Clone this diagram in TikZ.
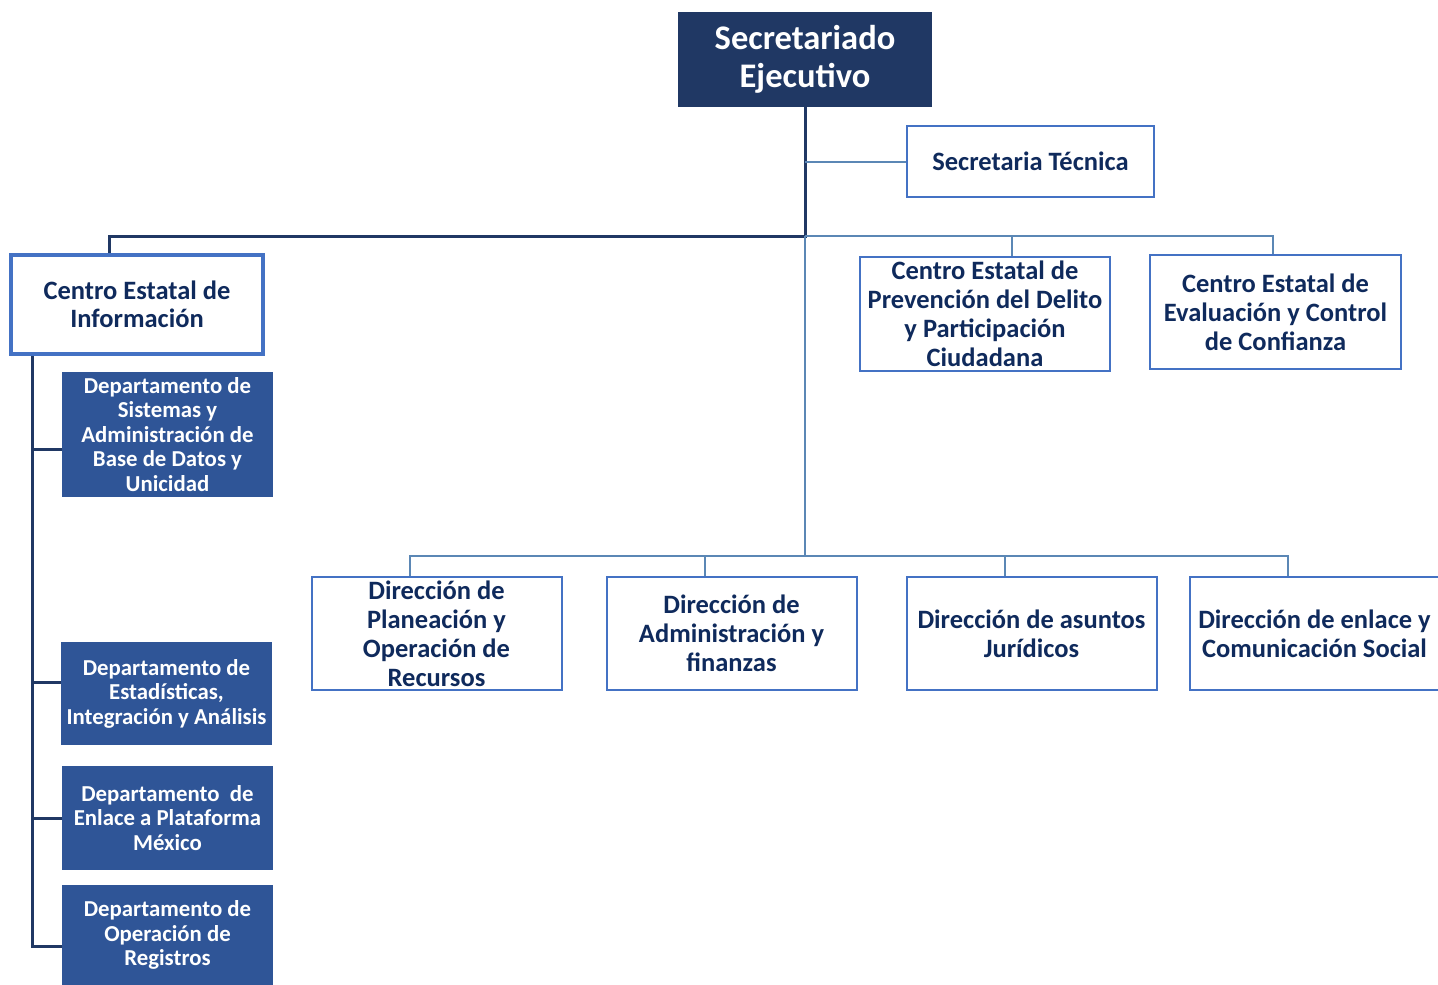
\documentclass[tikz,border=0pt]{standalone}
\usepackage{fontspec}
\setmainfont{Carlito}
\usetikzlibrary{positioning}
\definecolor{navy}{HTML}{203864}
\definecolor{deptblue}{HTML}{2F5597}
\definecolor{boxline}{HTML}{4472C4}
\definecolor{linkblue}{HTML}{5B87B5}
\definecolor{textnavy}{HTML}{0F2A5C}
\begin{document}
\begin{tikzpicture}[x=1pt,y=-1pt,node distance=45pt,inner sep=0pt]
\tikzstyle{head} = [rectangle, fill=navy, text=white, align=center, minimum width=254pt, minimum height=95pt, font=\fontsize{34.5}{38}\selectfont\bfseries]
\tikzstyle{unit} = [rectangle, draw=boxline, line width=2pt, fill=white, text=textnavy, align=center, minimum width=250pt, minimum height=113pt, font=\fontsize{26.5}{29}\selectfont\bfseries]
\tikzstyle{dept} = [rectangle, fill=deptblue, text=white, align=center, minimum width=211pt, minimum height=104pt, font=\fontsize{22.8}{24.5}\selectfont\bfseries]
\tikzstyle{trunk} = [draw=navy, line width=3pt]
\tikzstyle{link} = [draw=linkblue, line width=2pt]
\useasboundingbox (0,0) rectangle (1438,985);
\node [head] (sec) at (805,59.5) {Secretariado\\Ejecutivo};
\node [unit,minimum width=247pt,minimum height=71pt] (tec) at (1030.5,161.5) {Secretaria Técnica};
\node [unit,line width=4pt,minimum width=252pt,minimum height=99pt,font=\fontsize{26.5}{28}\selectfont\bfseries] (cei) at (137,304.5) {Centro Estatal de\\Información};
\node [unit,minimum height=114pt] (cprev) at (985,314) {Centro Estatal de\\Prevención del Delito\\y Participación\\Ciudadana};
\node [unit,minimum width=251pt,minimum height=114pt] (ceval) at (1275.5,312) {Centro Estatal de\\Evaluación y Control\\de Confianza};
\node [dept,minimum height=125pt] (dsis) at (167.5,434.5) {Departamento de\\Sistemas y\\Administración de\\Base de Datos y\\Unicidad};
\node [dept,minimum height=103pt] (dest) at (166.5,693.5) {Departamento de\\Estadísticas,\\Integración y Análisis};
\node [dept] (denl) at (167.5,818) {Departamento\ \ de\\Enlace a Plataforma\\México};
\node [dept,minimum height=100pt] (dope) at (167.5,935) {Departamento de\\Operación de\\Registros};
\node [unit] (dplan) at (436.5,633.5) {Dirección de\\Planeación y\\Operación de\\Recursos};
\node [unit,right=43pt of dplan] (dadm) {Dirección de\\Administración y\\finanzas};
\node [unit,right=48pt of dadm] (djur) {Dirección de asuntos\\Jurídicos};
\node [unit,right=31pt of djur] (denlc) {Dirección de enlace y\\Comunicación Social};
\coordinate (j1) at (805,236);
\coordinate (j2) at (805,556);
\coordinate (lt) at ([xshift=-105pt]cei.south);
\draw [trunk] (sec.south) -- (j1) -| ([xshift=-28pt]cei.north);
\draw [link] (sec.south |- tec.west) -- (tec.west);
\draw [link] (j1) -| ([xshift=-3pt]ceval.north);
\draw [link] ([xshift=27pt]cprev.north) |- (j1);
\draw [link] (j1) -- (j2);
\draw [link] ([xshift=-27pt]dplan.north) |- (j2) -| ([xshift=-27pt]denlc.north);
\draw [link] ([xshift=-27pt]dadm.north) |- (j2);
\draw [link] ([xshift=-27pt]djur.north) |- (j2);
\draw [trunk] (lt) |- ([yshift=-11pt]dope.west);
\foreach \d/\s in {dsis/-15,dest/11,denl/0}
  \draw [trunk] ([yshift=\s pt]\d.west) -- ++(-30,0);
\end{tikzpicture}
\end{document}
